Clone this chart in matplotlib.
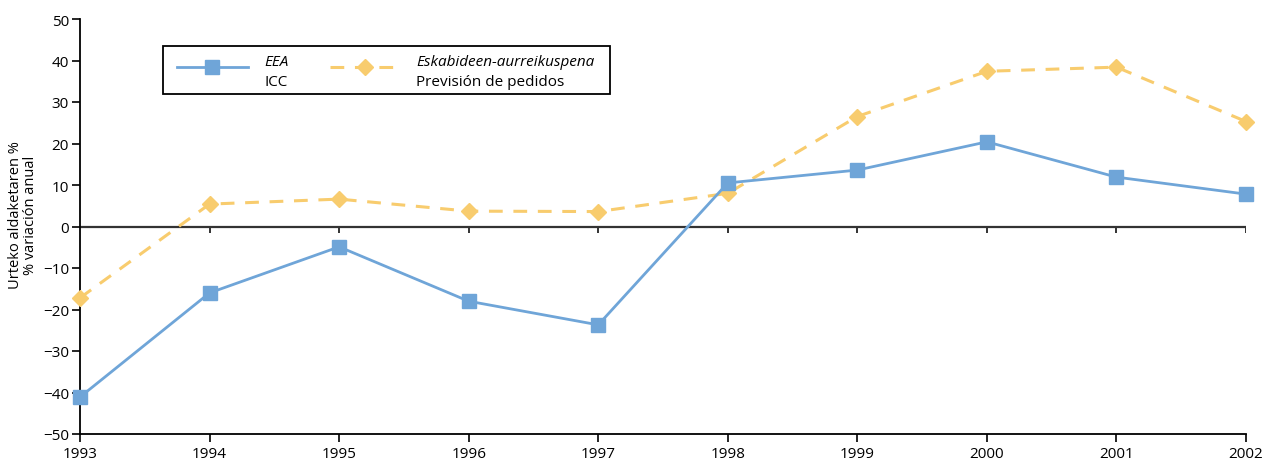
import matplotlib
matplotlib.use("Agg")
import matplotlib.pyplot as plt
from matplotlib.lines import Line2D
from matplotlib.patches import Rectangle

years = [1993, 1994, 1995, 1996, 1997, 1998, 1999, 2000, 2001, 2002]
icc = [-41.1, -16.0, -4.9, -18.0, -23.7, 10.5, 13.6, 20.4, 11.9, 7.8]
pedidos = [-17.2, 5.4, 6.6, 3.7, 3.6, 8.0, 26.5, 37.4, 38.4, 25.3]
yticks = [-50, -40, -30, -20, -10, 0, 10, 20, 30, 40, 50]
ytick_labels = ["\u221250", "\u221240", "\u221230", "\u221220", "\u221210", "0", "10", "20", "30", "40", "50"]
label_icc = ("EEA", "ICC")
label_ped = ("Eskabideen-aurreikuspena", "Previsión de pedidos")
ylabel = "Urteko aldaketaren %\n% variación anual"

blue = "#6fa5d8"
orange = "#f8cc6e"

plt.rcParams['font.family'] = ['Open Sans', 'DejaVu Sans']

W, H = 1263, 464
fig = plt.figure(figsize=(W / 100, H / 100), dpi=100)
ax = fig.add_axes([80 / W, 29 / H, (1246 - 80) / W, (435 - 20) / H])

ax.plot(years, pedidos, color=orange, lw=2.2, ls=(0, (4.5, 3.5)), marker="D", ms=8,
        mec=orange, mfc=orange, zorder=3, clip_on=False)
ax.plot(years, icc, color=blue, lw=2, marker="s", ms=10.5, mec=blue, mfc=blue, zorder=4,
        clip_on=False)

ax.set_xlim(years[0], years[-1])
ax.set_ylim(-50, 50)
ax.set_yticks(yticks)
ax.set_yticklabels(ytick_labels)
ax.set_xticks(years)
ax.set_xticklabels([str(y) for y in years])
ax.tick_params(axis="both", labelsize=11, length=6, width=1.2, color="black", direction="out")
ax.tick_params(axis="x", pad=3)
ax.tick_params(axis="y", pad=2)
for s in ["top", "right"]:
    ax.spines[s].set_visible(False)
for s in ["left", "bottom"]:
    ax.spines[s].set_linewidth(1.3)
    ax.spines[s].set_color("black")

# zero line with downward ticks
ax.axhline(0, color="#333333", lw=1.6, zorder=2)
ax.vlines(years[1:], -1.5, 0, color="#333333", lw=1.4, zorder=2)

fig.text(23 / W, 1 - 215 / H, ylabel, rotation=90, fontsize=10.5, linespacing=1.0,
         ha="center", va="center", multialignment="center")

# legend (manual)
def fx(px):
    return px / W
def fy(py):
    return 1 - py / H

fig.patches.append(Rectangle((fx(163), fy(95)), fx(610) - fx(163), fy(47) - fy(95),
                             transform=fig.transFigure, fill=False, ec="black", lw=1.3))
fig.lines.append(Line2D([fx(177), fx(248)], [fy(68), fy(68)], transform=fig.transFigure,
                        color=blue, lw=2))
fig.lines.append(Line2D([fx(212)], [fy(68)], transform=fig.transFigure,
                        color=blue, marker="s", ms=10.5, lw=0))
fig.lines.append(Line2D([fx(330), fx(400)], [fy(68), fy(68)], transform=fig.transFigure,
                        color=orange, lw=2.2, ls=(0, (4.5, 3.5))))
fig.lines.append(Line2D([fx(365)], [fy(68)], transform=fig.transFigure,
                        color=orange, marker="D", ms=8, lw=0))
fig.text(fx(264), fy(63), label_icc[0], style="italic", fontsize=11, va="center", ha="left")
fig.text(fx(264), fy(83), label_icc[1], fontsize=11, va="center", ha="left")
fig.text(fx(416), fy(63), label_ped[0], style="italic", fontsize=11, va="center", ha="left")
fig.text(fx(416), fy(83), label_ped[1], fontsize=11, va="center", ha="left")

fig.savefig("out.png", dpi=100)
